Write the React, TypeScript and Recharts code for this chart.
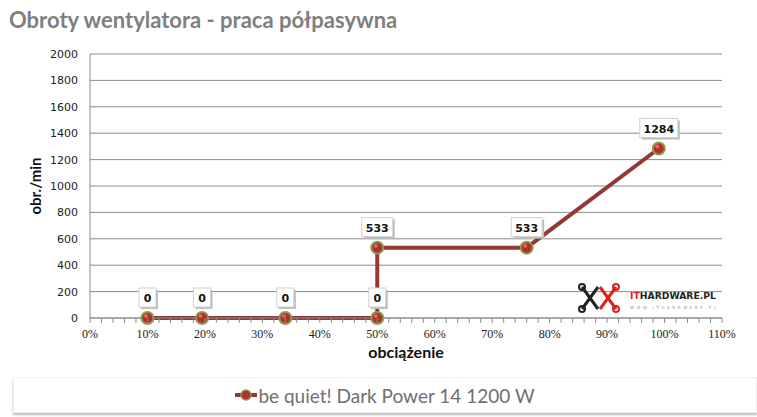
import { LineChart, Line, XAxis, YAxis, CartesianGrid, LabelList, Label, Legend } from 'recharts';

const loadPct = [10, 19.5, 34, 50, 50, 76, 99];
const rpm = [0, 0, 0, 0, 533, 533, 1284];
const xTicks = [0, 2, 4, 6, 8, 10, 12, 14, 16, 18, 20, 22, 24, 26, 28, 30, 32, 34, 36, 38, 40, 42, 44, 46, 48, 50, 52, 54, 56, 58, 60, 62, 64, 66, 68, 70, 72, 74, 76, 78, 80, 82, 84, 86, 88, 90, 92, 94, 96, 98, 100, 102, 104, 106, 108, 110];
const yTicks = [0, 200, 400, 600, 800, 1000, 1200, 1400, 1600, 1800, 2000];
const seriesName = 'be quiet! Dark Power 14 1200 W';

const data = loadPct.map((x, i) => ({ x, y: rpm[i] }));

const LINE = '#953735';

function XTick(props: any) {
  const { x, y, payload } = props;
  const v = payload.value;
  return (
    <g>
      <line x1={x} y1={y - 8} x2={x} y2={y - 3} stroke="#8c8c8c" />
      {v % 10 === 0 && (
        <text x={x} y={y + 12} textAnchor="middle" fontFamily="'Liberation Serif'" fontSize={12} fill="#222">
          {`${v}%`}
        </text>
      )}
    </g>
  );
}

function Dot(props: any) {
  const { cx, cy } = props;
  return (
    <g>
      <circle cx={cx} cy={cy} r={6} fill="#b0302c" stroke="#8a9a52" strokeWidth={2} />
      <circle cx={cx - 1.5} cy={cy - 2} r={2} fill="#d86a5e" />
    </g>
  );
}

function ValueBox(props: any) {
  const { x, y, value } = props;
  const txt = String(value);
  const w = txt.length * 7 + 10;
  const h = 19;
  const bx = x - w / 2;
  const by = y - 30;
  return (
    <g>
      <rect x={bx + 2} y={by + 2} width={w} height={h} fill="#bdbdbd" />
      <rect x={bx} y={by} width={w} height={h} fill="#fff" stroke="#d0d0d0" />
      <text x={x} y={by + 14} textAnchor="middle" fontFamily="'DejaVu Sans'" fontWeight="bold" fontSize={11} fill="#111">
        {txt}
      </text>
    </g>
  );
}

function LegendBox(props: any) {
  const item = props.payload?.[0];
  return (
    <div
      style={{
        width: 744,
        height: 36,
        boxSizing: 'border-box',
        border: '1px solid #f0f0f0',
        boxShadow: '0 2px 2px #bbb',
        background: '#fff',
        display: 'flex',
        alignItems: 'center',
        justifyContent: 'center',
        fontFamily: 'Lato',
        fontSize: 19,
        color: '#6f6f6f',
      }}
    >
      <svg width={22} height={14} style={{ marginRight: 1 }}>
        <line x1={0} y1={7} x2={22} y2={7} stroke={LINE} strokeWidth={4} />
        <circle cx={11} cy={7} r={5} fill="#b0302c" stroke="#8a9a52" strokeWidth={1.5} />
      </svg>
      <span>{item ? item.value : seriesName}</span>
    </div>
  );
}

export default function App() {
  return (
    <div style={{ position: 'absolute', left: 0, top: 0, width: 757, height: 417, background: '#fff' }}>
      <div
        style={{
          position: 'absolute',
          left: 9,
          top: 6,
          fontFamily: 'Lato',
          fontWeight: 'bold',
          fontSize: 22,
          color: '#7f7f7f',
        }}
      >
        Obroty wentylatora - praca półpasywna
      </div>
      <LineChart width={757} height={417} data={data} margin={{ top: 54, right: 35, left: 30, bottom: 38 }}>
        <CartesianGrid vertical={false} stroke="#8c8c8c" />
        <XAxis
          dataKey="x"
          type="number"
          domain={[0, 110]}
          ticks={xTicks}
          interval={0}
          tick={<XTick />}
          tickLine={false}
          axisLine={{ stroke: '#8c8c8c' }}
          height={25}
        >
          <Label
            value="obciążenie"
            position="bottom"
            offset={4}
            style={{ fontFamily: 'Lato', fontWeight: 'bold', fontSize: 16, fill: '#111' }}
          />
        </XAxis>
        <YAxis
          type="number"
          domain={[0, 2000]}
          ticks={yTicks}
          interval={0}
          width={60}
          tickLine={false}
          axisLine={{ stroke: '#8c8c8c' }}
          tick={{ fontFamily: 'DejaVu Sans', fontSize: 11, fill: '#222' }}
          tickMargin={6}
        >
          <Label
            value="obr./min"
            angle={-90}
            position="insideLeft"
            offset={6}
            style={{ fontFamily: 'Lato', fontWeight: 'bold', fontSize: 15, fill: '#111', textAnchor: 'middle' }}
          />
        </YAxis>
        <Legend
          verticalAlign="bottom"
          content={<LegendBox />}
          wrapperStyle={{ left: 13, top: 377, width: 744 }}
        />
        <Line
          name={seriesName}
          dataKey="y"
          type="linear"
          stroke={LINE}
          strokeWidth={4}
          dot={<Dot />}
          activeDot={false}
          isAnimationActive={false}
        >
          <LabelList dataKey="y" content={<ValueBox />} />
        </Line>
      </LineChart>
      <svg style={{ position: 'absolute', left: 578, top: 283 }} width={145} height={32}>
        <g fill="none" strokeWidth={3}>
          <path d="M4 4 L20 26" stroke="#222" />
          <path d="M20 4 L4 26" stroke="#222" />
          <path d="M22 4 L38 26" stroke="#d22" />
          <path d="M38 4 L22 26" stroke="#d22" />
          <circle cx={4} cy={4} r={3} stroke="#222" strokeWidth={2} />
          <circle cx={4} cy={26} r={3} stroke="#222" strokeWidth={2} />
          <circle cx={38} cy={4} r={3} stroke="#d22" strokeWidth={2} />
          <circle cx={38} cy={26} r={3} stroke="#d22" strokeWidth={2} />
        </g>
        <text x={52} y={16} fontFamily="'DejaVu Sans'" fontWeight="bold" fontSize={9} textLength={86} lengthAdjust="spacingAndGlyphs">
          <tspan fill="#d22">IT</tspan>
          <tspan fill="#222">HARDWARE.PL</tspan>
        </text>
        <text x={52} y={26} fontFamily="'DejaVu Sans'" fontSize={4} fill="#999" textLength={86}>
          WWW.ITHARDWARE.PL
        </text>
      </svg>
    </div>
  );
}
